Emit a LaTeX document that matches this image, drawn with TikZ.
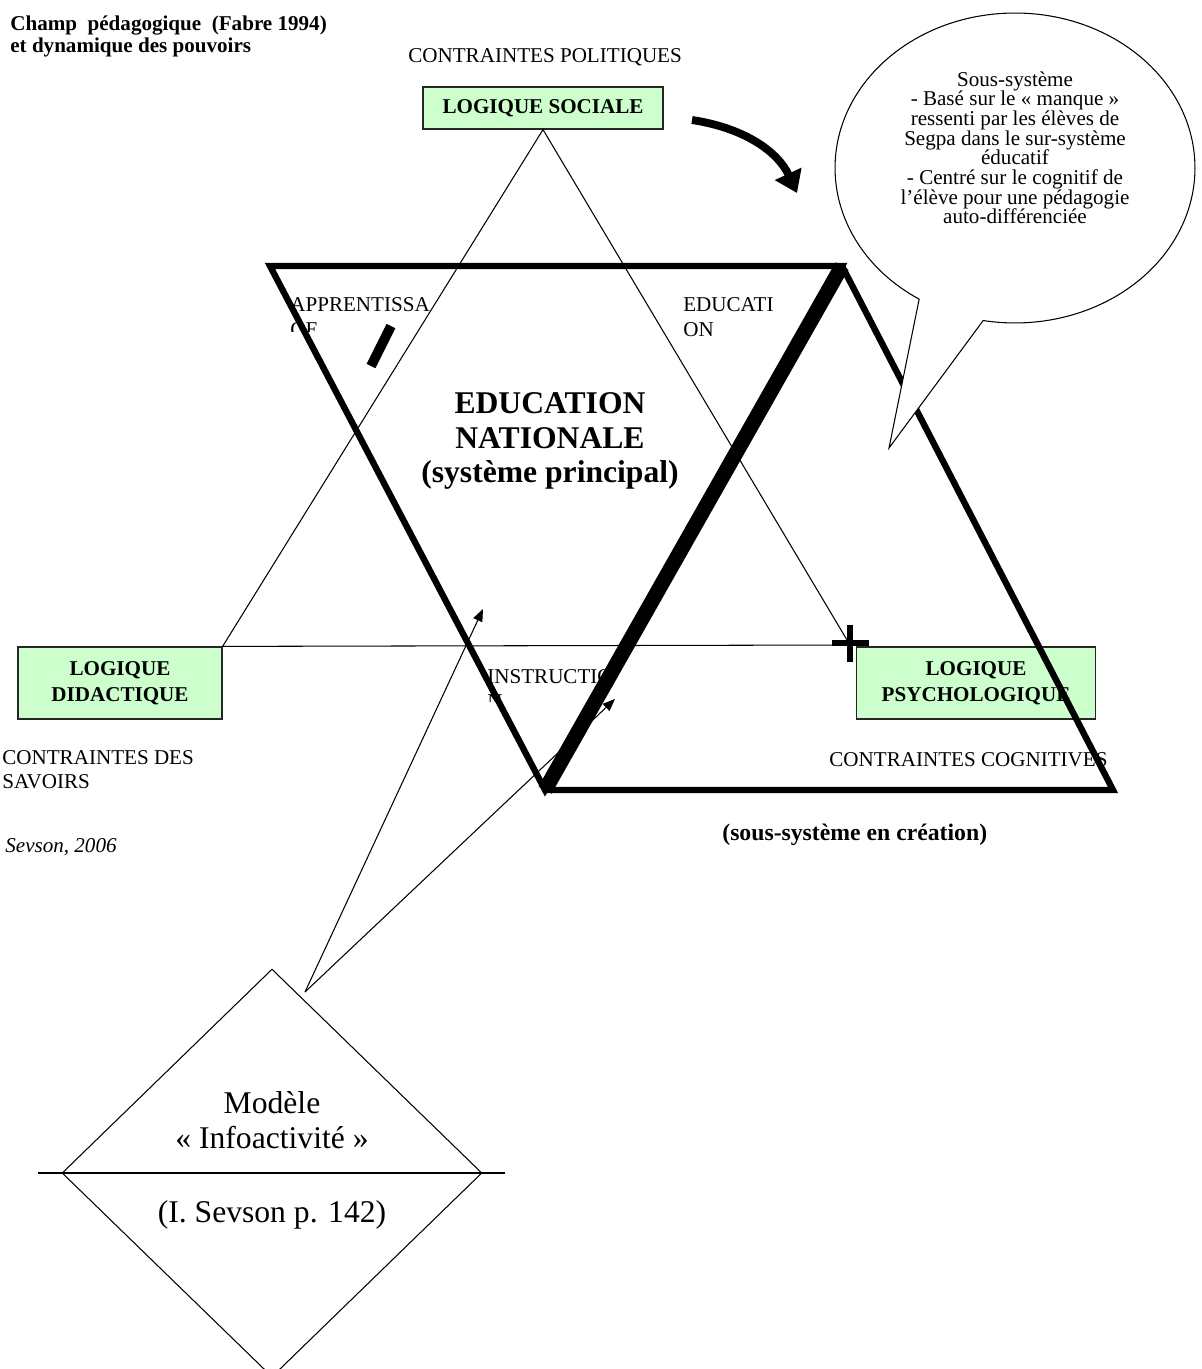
\documentclass[tikz,border=0pt]{standalone}
\usepackage{fontspec}
\setmainfont{Liberation Serif}
\usepackage{tikz}
\usetikzlibrary{positioning, arrows.meta, calc, shapes.geometric, shapes.callouts}
\definecolor{logicgreen}{HTML}{CCFFCC}
\newcommand{\bodysize}{\fontsize{12}{14}\selectfont}

\begin{document}
\begin{tikzpicture}[
  x=0.02cm, y=-0.02cm,
  logic/.style={draw=black!85, line width=0.7pt, fill=logicgreen, align=center,
                inner sep=0pt, font=\bfseries\fontsize{12}{15}\selectfont},
  lbl/.style={inner sep=0pt, font=\bodysize},
  thinline/.style={line width=0.6pt},
  heavy/.style={line width=3.6pt, line join=miter},
  pointer/.style={-{Triangle[length=7pt, width=5.5pt]}, line width=0.6pt},
  >=Stealth
]
  \useasboundingbox (0,0) rectangle (1201,1369);

  % Title
  \node[lbl, anchor=north west, align=left, font=\bfseries\fontsize{12}{12.8}\selectfont]
    (title) at (10,15) {Champ\ \ pédagogique\ \ (Fabre 1994)\\et dynamique des pouvoirs};

  % The three logics
  \node[logic, minimum width=4.8cm, minimum height=0.84cm] (social) at (543,108)
    {LOGIQUE SOCIALE};
  \node[logic, minimum width=4.08cm, minimum height=1.44cm] (didact) at (120,683)
    {LOGIQUE\\DIDACTIQUE};
  \node[logic, minimum width=4.78cm, minimum height=1.44cm] (psycho) at (976,683)
    {LOGIQUE\\PSYCHOLOGIQUE};

  % Constraints
  \node[lbl, anchor=base west] (cpol) at (408,62) {CONTRAINTES POLITIQUES};
  \node[lbl, anchor=north west, align=left] (csav) at (2,750) {CONTRAINTES DES\\SAVOIRS};
  \node[lbl, anchor=base west] (ccog) at (829,766) {CONTRAINTES COGNITIVES};

  % Pedagogical triangle
  \coordinate (plusc) at (850,645);
  \draw[thinline] (social.south) -- (didact.north east) -- (plusc) -- cycle;

  % Corner labels
  \node[lbl, anchor=base west] (appr) at (290,311) {APPRENTISSA};
  \begin{scope}
    \clip (280,318) rectangle (340,331);
    \node[lbl, anchor=base west] (appr2) at (290,336) {GE};
  \end{scope}
  \node[lbl, anchor=base west] (educ) at (683,311) {EDUCATI};
  \node[lbl, anchor=base west] (educ2) at (683,336) {ON};
  \node[lbl, anchor=base west] (instr) at (487,683) {INSTRUCTIO};
  \begin{scope}
    \clip (480,690) rectangle (520,701);
    \node[lbl, anchor=base west] (instr2) at (487,708) {N};
  \end{scope}

  \node[lbl, align=center, font=\bfseries\fontsize{18}{19.8}\selectfont] (edunat) at (550,441)
    {EDUCATION\\NATIONALE\\(système principal)};
  \node[lbl, anchor=base west, font=\bfseries\fontsize{13.5}{16}\selectfont] (creation)
    at (722,840) {(sous-système en création)};
  \node[lbl, anchor=base west, font=\itshape\bodysize] (sign) at (5,852) {Sevson, 2006};

  % Model
  \node[diamond, draw, thinline, minimum width=8.4cm, minimum height=8.16cm, inner sep=0pt]
    (modele) at (272,1173) {};
  \draw[thinline] ($(modele.west)+(-24,0)$) -- ($(modele.east)+(23,0)$);
  \node[lbl, anchor=north, align=center, font=\fontsize{18}{20}\selectfont] (modtxt)
    at (272,1091) {Modèle\\«~Infoactivité~»};
  \node[lbl, anchor=base, font=\fontsize{18}{20}\selectfont] (modref) at (272,1222)
    {(I. Sevson p. 142)};

  % Arrows from the model
  \coordinate (src) at (305,992);
  \coordinate (tipA) at (483,609);
  \coordinate (tipB) at (615,699);
  \draw[pointer] (src) -- (tipA);
  \draw[pointer] (src) -- (tipB);

  % Main system and sub-system
  \coordinate (tl) at (270,266);
  \coordinate (tr) at (842,266);
  \coordinate (bt) at (545,790);
  \coordinate (br) at (1113,790);
  \draw[heavy] (tl) -- (tr) -- (bt) -- cycle;
  \draw[heavy] (tr) -- (br) -- (bt);
  \draw[line width=8.5pt] (tr) -- (bt);

  % Signs
  \draw[line width=5.6pt] (371,366) -- (391,326);
  \draw[line width=3.2pt] (832,643) -- (869,643) (850,625) -- (850,662);

  % Speech bubble
  \node[ellipse callout, draw, fill=white, line width=0.6pt, minimum width=7.2cm,
        minimum height=6.2cm, callout absolute pointer={(889,448)},
        callout pointer arc=22] (bubble) at (1015,168) {};
  \node[lbl, anchor=north, align=center, font=\fontsize{12}{11.2}\selectfont] (bubbletxt)
    at (1015,71) {Sous-système\\- Basé sur le «~manque~»\\ressenti par les élèves de\\
    Segpa dans le sur-système\\éducatif\\- Centré sur le cognitif de\\
    l’élève pour une pédagogie\\auto-différenciée};

  % Curved arrow
  \coordinate (flowS) at (692,120);
  \coordinate (flowE) at (797,193);
  \draw[line width=4.5pt, -{Triangle[length=12pt, width=16pt]}]
    (flowS) .. controls (745,128) and (778,152) .. (flowE);
\end{tikzpicture}
\end{document}
